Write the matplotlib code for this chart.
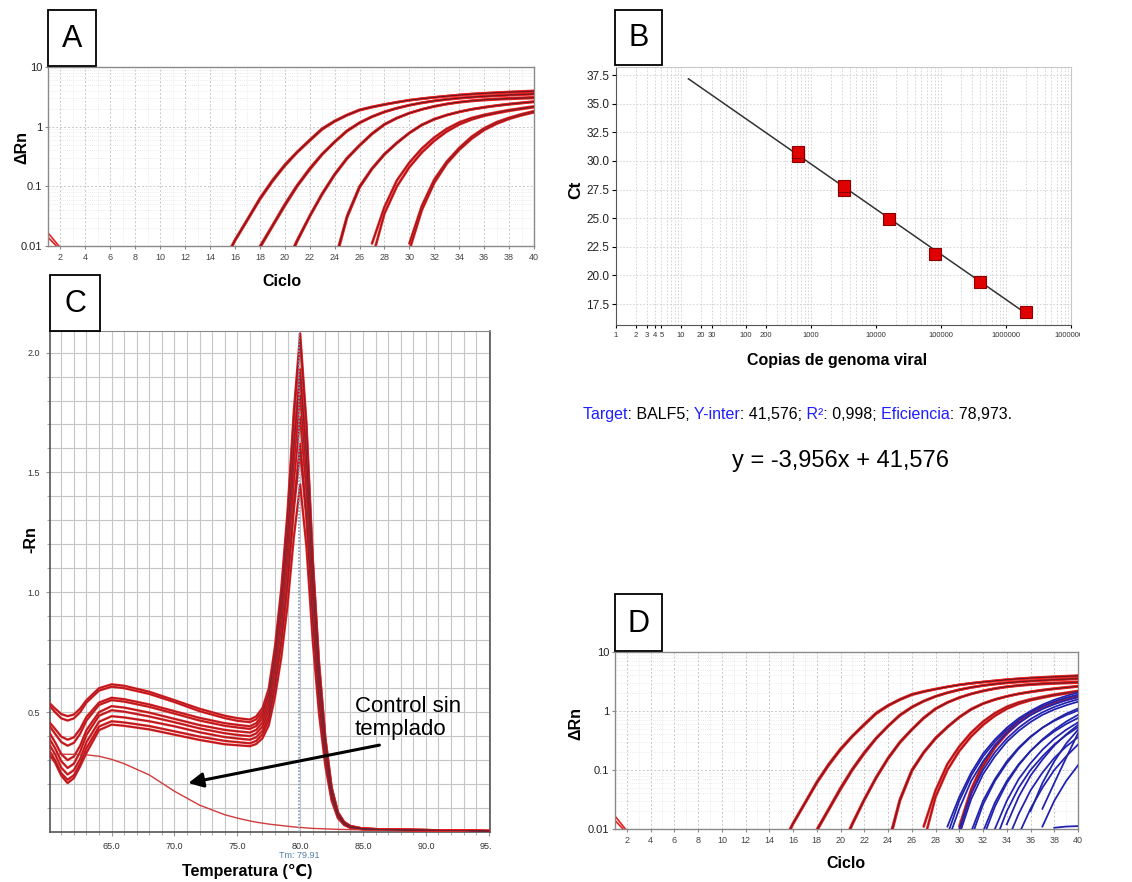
import numpy as np
import matplotlib
matplotlib.use("Agg")
import matplotlib.pyplot as plt
from matplotlib.patches import Rectangle
from matplotlib.transforms import Bbox, TransformedBbox
from matplotlib.font_manager import FontProperties

plt.rcParams['font.family'] = ['Liberation Sans', 'DejaVu Sans']

W, H = 1132, 882

# ---------------- A / D: amplification curves (delta Rn per cycle) ----------------
std_start = [15, 15, 17, 17, 20, 20, 24, 24, 27, 27, 30, 30]
std_curves = [
    [0.005, 0.0126, 0.028, 0.063, 0.126, 0.23, 0.38, 0.6, 0.93, 1.25, 1.58, 1.92, 2.15,
     2.36, 2.57, 2.78, 2.95, 3.1, 3.24, 3.38, 3.5, 3.6, 3.68, 3.76, 3.83, 3.9],
    [0.0048, 0.0122, 0.027, 0.06, 0.12, 0.22, 0.37, 0.58, 0.9, 1.22, 1.55, 1.88, 2.12,
     2.34, 2.56, 2.77, 2.94, 3.1, 3.25, 3.4, 3.53, 3.64, 3.73, 3.82, 3.9, 3.98],
    [0.004, 0.0093, 0.021, 0.047, 0.1, 0.19, 0.34, 0.55, 0.84, 1.15, 1.46, 1.76, 2.03,
     2.28, 2.5, 2.69, 2.85, 2.99, 3.1, 3.2, 3.28, 3.36, 3.43, 3.5],
    [0.0042, 0.0098, 0.022, 0.05, 0.105, 0.2, 0.35, 0.56, 0.86, 1.17, 1.48, 1.78, 2.05,
     2.3, 2.52, 2.72, 2.89, 3.03, 3.15, 3.25, 3.34, 3.42, 3.5, 3.58],
    [0.0045, 0.0126, 0.032, 0.076, 0.16, 0.3, 0.49, 0.77, 1.1, 1.4, 1.69, 1.95, 2.18,
     2.39, 2.56, 2.69, 2.79, 2.86, 2.92, 2.97, 3.02],
    [0.0042, 0.012, 0.031, 0.073, 0.155, 0.29, 0.48, 0.75, 1.08, 1.39, 1.68, 1.95, 2.2,
     2.41, 2.59, 2.73, 2.84, 2.93, 3.0, 3.06, 3.12],
    [0.0056, 0.032, 0.1, 0.2, 0.35, 0.54, 0.79, 1.08, 1.34, 1.57, 1.77, 1.95, 2.1,
     2.24, 2.37, 2.48, 2.6],
    [0.005, 0.03, 0.095, 0.195, 0.34, 0.53, 0.78, 1.06, 1.33, 1.56, 1.77, 1.96, 2.12,
     2.27, 2.4, 2.52, 2.64],
    [0.011, 0.045, 0.126, 0.25, 0.43, 0.66, 0.92, 1.18, 1.4, 1.58, 1.74, 1.9, 2.04, 2.19],
    [0.006, 0.035, 0.1, 0.21, 0.37, 0.58, 0.83, 1.09, 1.32, 1.52, 1.68, 1.84, 1.98, 2.12],
    [0.011, 0.047, 0.13, 0.26, 0.44, 0.68, 0.94, 1.19, 1.41, 1.62, 1.82],
    [0.0085, 0.04, 0.115, 0.24, 0.41, 0.63, 0.88, 1.12, 1.35, 1.55, 1.74],
]
noise_cycles = [1, 2]
noise_curves = [[0.0166, 0.0093], [0.014, 0.0085]]

# samples of panel D
smp_start = [29, 29, 29, 30, 30, 31, 31, 32, 33, 33, 34, 35, 36, 37, 37, 38, 34, 32]
smp_curves = [
    [0.011, 0.035, 0.09, 0.19, 0.33, 0.52, 0.75, 1.0, 1.28, 1.55, 1.8, 2.05],
    [0.008, 0.03, 0.08, 0.17, 0.3, 0.48, 0.7, 0.95, 1.2, 1.45, 1.68, 1.9],
    [0.006, 0.022, 0.065, 0.14, 0.26, 0.42, 0.62, 0.85, 1.08, 1.3, 1.52, 1.72],
    [0.01, 0.04, 0.1, 0.2, 0.34, 0.52, 0.73, 0.95, 1.17, 1.38, 1.58],
    [0.008, 0.032, 0.085, 0.17, 0.3, 0.46, 0.65, 0.86, 1.06, 1.25, 1.44],
    [0.009, 0.03, 0.07, 0.14, 0.24, 0.37, 0.52, 0.68, 0.85, 1.02],
    [0.007, 0.026, 0.065, 0.13, 0.23, 0.36, 0.52, 0.7, 0.9, 1.1],
    [0.009, 0.028, 0.065, 0.125, 0.21, 0.32, 0.45, 0.6, 0.76],
    [0.01, 0.03, 0.07, 0.13, 0.22, 0.34, 0.48, 0.64],
    [0.006, 0.02, 0.05, 0.1, 0.17, 0.27, 0.39, 0.53],
    [0.006, 0.018, 0.045, 0.09, 0.16, 0.25, 0.36],
    [0.008, 0.022, 0.05, 0.1, 0.17, 0.27],
    [0.02, 0.06, 0.14, 0.28, 0.48],
    [0.011, 0.03, 0.065, 0.12],
    [0.022, 0.06, 0.16, 0.42],
    [0.0105, 0.011, 0.0112],
    [0.012, 0.035, 0.08, 0.15, 0.26, 0.4, 0.58],
    [0.007, 0.024, 0.06, 0.12, 0.21, 0.33, 0.48, 0.66, 0.86],
]

# ---------------- B: standard curve ----------------
copies = [640, 640, 3200, 3200, 16000, 80000, 400000, 2000000]
ct = [30.45, 30.8, 27.45, 27.8, 24.93, 21.84, 19.4, 16.77]
fit_x = [13, 2.1e6]
fit_ct = [37.17, 16.62]
b_xticks = [1, 2, 3, 4, 5, 10, 20, 30, 100, 200, 1000, 1e4, 1e5, 1e6, 1e7]
b_xlabels = ['1', '2', '3', '4', '5', '10', '20', '30', '100', '200', '1000',
             '10000', '100000', '1000000', '10000000']

# ---------------- C: melt curves (-Rn' vs temperature) ----------------
temp = [60.1, 60.5, 61.0, 61.5, 62.0, 62.5, 63.0, 64.0, 65.0, 66.0, 68.0, 70.0, 72.0,
        74.0, 75.0, 76.0, 76.5, 77.0, 77.5, 78.0, 78.5, 79.0, 79.5, 80.0, 80.5, 81.0,
        81.5, 82.0, 82.5, 83.0, 83.5, 84.0, 85.0, 87.0, 90.0, 95.0]
melt = [
    [0.536, 0.515, 0.492, 0.483, 0.49, 0.515, 0.55, 0.6, 0.616, 0.61, 0.585, 0.55, 0.514,
     0.485, 0.475, 0.469, 0.482, 0.517, 0.598, 0.775, 1.017, 1.339, 1.758, 2.08, 1.706,
     1.144, 0.707, 0.395, 0.187, 0.083, 0.042, 0.025, 0.014, 0.01, 0.008, 0.004],
    [0.525, 0.5, 0.474, 0.465, 0.474, 0.5, 0.54, 0.59, 0.606, 0.6, 0.576, 0.542, 0.504,
     0.475, 0.464, 0.458, 0.47, 0.502, 0.576, 0.738, 0.958, 1.253, 1.636, 1.93, 1.583,
     1.062, 0.656, 0.367, 0.174, 0.077, 0.039, 0.023, 0.014, 0.01, 0.008, 0.004],
    [0.455, 0.43, 0.398, 0.385, 0.395, 0.43, 0.48, 0.54, 0.56, 0.554, 0.532, 0.504, 0.476,
     0.454, 0.447, 0.441, 0.454, 0.489, 0.57, 0.747, 0.988, 1.31, 1.728, 2.05, 1.681,
     1.128, 0.697, 0.39, 0.185, 0.082, 0.041, 0.025, 0.014, 0.01, 0.008, 0.004],
    [0.44, 0.41, 0.375, 0.36, 0.372, 0.41, 0.465, 0.53, 0.55, 0.544, 0.522, 0.494, 0.465,
     0.443, 0.436, 0.43, 0.442, 0.474, 0.548, 0.709, 0.93, 1.224, 1.606, 1.9, 1.558,
     1.045, 0.646, 0.361, 0.171, 0.076, 0.038, 0.023, 0.014, 0.01, 0.008, 0.004],
    [0.41, 0.375, 0.325, 0.3, 0.315, 0.36, 0.425, 0.5, 0.525, 0.519, 0.498, 0.472, 0.446,
     0.426, 0.42, 0.415, 0.426, 0.457, 0.527, 0.682, 0.893, 1.174, 1.539, 1.82, 1.492,
     1.001, 0.619, 0.346, 0.164, 0.073, 0.036, 0.022, 0.013, 0.01, 0.008, 0.004],
    [0.385, 0.35, 0.295, 0.267, 0.285, 0.335, 0.405, 0.485, 0.508, 0.502, 0.482, 0.458,
     0.432, 0.412, 0.405, 0.4, 0.411, 0.44, 0.506, 0.653, 0.852, 1.118, 1.464, 1.73, 1.419,
     0.952, 0.588, 0.329, 0.156, 0.069, 0.035, 0.021, 0.013, 0.01, 0.008, 0.004],
    [0.36, 0.325, 0.268, 0.24, 0.258, 0.305, 0.375, 0.46, 0.483, 0.478, 0.462, 0.441,
     0.416, 0.396, 0.39, 0.385, 0.395, 0.422, 0.484, 0.62, 0.805, 1.052, 1.373, 1.62,
     1.328, 0.891, 0.551, 0.308, 0.146, 0.065, 0.032, 0.019, 0.012, 0.009, 0.007, 0.004],
    [0.335, 0.3, 0.245, 0.218, 0.237, 0.285, 0.35, 0.44, 0.462, 0.457, 0.442, 0.42, 0.398,
     0.38, 0.375, 0.37, 0.38, 0.407, 0.468, 0.602, 0.785, 1.029, 1.346, 1.59, 1.304,
     0.875, 0.541, 0.302, 0.143, 0.064, 0.032, 0.019, 0.012, 0.009, 0.007, 0.004],
    [0.32, 0.29, 0.235, 0.204, 0.225, 0.274, 0.33, 0.425, 0.448, 0.443, 0.428, 0.406,
     0.384, 0.366, 0.362, 0.358, 0.367, 0.391, 0.445, 0.565, 0.729, 0.948, 1.232, 1.45,
     1.189, 0.798, 0.493, 0.276, 0.131, 0.058, 0.029, 0.017, 0.011, 0.009, 0.007, 0.004],
]
ntc = [0.325, 0.325, 0.325, 0.324, 0.324, 0.323, 0.322, 0.316, 0.303, 0.285, 0.238, 0.17,
       0.112, 0.072, 0.058, 0.046, 0.041, 0.037, 0.033, 0.03, 0.027, 0.024, 0.021, 0.019,
       0.017, 0.015, 0.014, 0.013, 0.012, 0.011, 0.0105, 0.01, 0.009, 0.008, 0.006, 0.003]
tm = 79.91


def rect(l, t, r, b):
    return [l / W, 1 - b / H, (r - l) / W, (b - t) / H]


def ftext(x, y, s, **kw):
    return fig.text(x / W, 1 - y / H, s, **kw)


def label_box(l, t, r, b, letter):
    fig.add_artist(Rectangle((l / W, 1 - b / H), (r - l) / W, (b - t) / H,
                             transform=fig.transFigure, facecolor='white',
                             edgecolor='black', lw=1.3, zorder=10))
    ftext((l + r) / 2, (t + b) / 2 + 1, letter, ha='center', va='center',
          fontsize=22, zorder=11)


def clip_right(txt, xpx):
    txt.set_clip_box(TransformedBbox(Bbox([[0, 0], [xpx / W, 1]]), fig.transFigure))
    txt.set_clip_on(True)


def red_curve(ax, cyc, vals):
    ax.plot(cyc, vals, color='#e82020', lw=1.9, solid_capstyle='round',
            solid_joinstyle='round', zorder=3)
    ax.plot(cyc, vals, color='#4a1822', lw=0.45, alpha=0.85, zorder=3.1)


def amp_axes(ax):
    ax.set_yscale('log')
    ax.set_xlim(1, 40)
    ax.set_ylim(0.01, 10)
    ax.set_xticks(range(2, 41, 2))
    ax.set_xticks(range(1, 41), minor=True)
    ax.set_yticks([0.01, 0.1, 1, 10])
    ax.set_yticklabels(['0.01', '0.1', '1', '10'])
    ax.tick_params(axis='x', labelsize=6.5, labelcolor='#444444', length=2,
                   color='#888888', pad=3)
    ax.tick_params(axis='y', labelsize=8, labelcolor='#222222', length=2,
                   color='#888888', pad=2)
    ax.tick_params(which='minor', length=0)
    ax.grid(which='major', color='#c8c8c8', lw=0.7, ls=(0, (2, 2)))
    ax.grid(which='minor', color='#dadada', lw=0.5, ls=(0, (1, 2)))
    for s in ax.spines.values():
        s.set_color('#8a8a8a')
        s.set_linewidth(1.0)


fig = plt.figure(figsize=(W / 100, H / 100), dpi=100)

# ---------------- panel A ----------------
axA = fig.add_axes(rect(48, 67, 534, 246))
amp_axes(axA)
for st, vals in zip(std_start, std_curves):
    red_curve(axA, np.arange(st, st + len(vals)), vals)
for vals in noise_curves:
    axA.plot(noise_cycles, vals, color='#e62222', lw=1.2)
label_box(48, 10, 96, 66, 'A')
ftext(22, 148, 'ΔRn', rotation=90, ha='center', va='center', fontsize=11.5,
      fontweight='bold')
ftext(282, 282, 'Ciclo', ha='center', va='center', fontsize=11.5, fontweight='bold')

# ---------------- panel B ----------------
axB = fig.add_axes(rect(616, 67, 1071, 325))
axB.set_xscale('log')
axB.set_xlim(1, 1e7)
axB.set_ylim(15.67, 38.2)
axB.set_yticks(np.arange(17.5, 38, 2.5))
axB.set_yticklabels(['%.1f' % v for v in np.arange(17.5, 38, 2.5)])
axB.set_xticks(b_xticks)
axB.set_xticklabels(b_xlabels)
axB.tick_params(axis='x', labelsize=5.5, labelcolor='#333333', length=2, pad=3)
axB.tick_params(axis='y', labelsize=8.5, labelcolor='#222222', length=3, pad=2)
axB.tick_params(which='minor', length=0)
axB.grid(which='both', axis='x', color='#d0d0d0', lw=0.6, ls=(0, (2, 2)))
axB.grid(which='major', axis='y', color='#d0d0d0', lw=0.6, ls=(0, (2, 2)))
for s in ['top', 'right']:
    axB.spines[s].set_color('#c8c8c8')
for s in ['left', 'bottom']:
    axB.spines[s].set_color('#555555')
axB.plot(fit_x, fit_ct, color='#333333', lw=1.1, zorder=3)
axB.plot(copies, ct, ls='none', marker='s', ms=9, mfc='#e00000', mec='#8a0000',
         mew=0.8, zorder=4)
clip_right(axB.get_xticklabels()[-1], 1080)
label_box(615, 10, 662, 65, 'B')
ftext(576, 190, 'Ct', rotation=90, ha='center', va='center', fontsize=12.5,
      fontweight='bold')
ftext(837, 360, 'Copias de genoma viral', ha='center', va='center', fontsize=11.5,
      fontweight='bold')

# info text under B: one string, drawn once per colour segment and clipped
blue = '#1f1fff'
parts = [('Target', blue), (': BALF5; ', 'black'), ('Y-inter', blue),
         (': 41,576; ', 'black'), ('R²', blue), (': 0,998; ', 'black'),
         ('Eficiencia', blue), (': 78,973.', 'black')]
full = ''.join(s for s, _ in parts)
renderer = fig.canvas.get_renderer()
fp = FontProperties(family=['Liberation Sans', 'DejaVu Sans'], size=11.5)


def width(s):
    return renderer.get_text_width_height_descent(s, fp, ismath=False)[0]


x0 = 583
edges = [0]
prefix = ''
for s, _ in parts[:-1]:
    prefix += s
    edges.append(width('I' + prefix.rstrip()) - width('I'))
for k, (s, c) in enumerate(parts):
    t = ftext(x0, 414, full, ha='left', va='center', fontsize=11.5, color=c)
    left = 0 if k == 0 else x0 + edges[k]
    right = W if k == len(parts) - 1 else x0 + edges[k + 1]
    t.set_clip_box(Bbox([[left, 0], [right, H]]))
    t.set_clip_on(True)
ftext(840, 461, 'y = -3,956x + 41,576', ha='center', va='center', fontsize=17)

# ---------------- panel C ----------------
axC = fig.add_axes(rect(50, 331, 490, 832))
axC.set_xlim(60.1, 95.1)
axC.set_ylim(0, 2.09)
axC.set_xticks([65, 70, 75, 80, 85, 90, 95])
axC.set_xticklabels(['65.0', '70.0', '75.0', '80.0', '85.0', '90.0', '95.0'])
axC.set_xticks(np.arange(61, 96, 1), minor=True)
axC.set_yticks([0.5, 1.0, 1.5, 2.0])
axC.set_yticklabels(['0.5', '1.0', '1.5', '2.0'])
axC.set_yticks(np.arange(0.1, 2.05, 0.1), minor=True)
axC.tick_params(which='both', labelsize=6.5, labelcolor='#333333', length=3,
                color='#999999', pad=4)
axC.tick_params(which='minor', length=2)
axC.grid(which='both', color='#c6c6c6', lw=0.8)
axC.spines['top'].set_color('#888888')
for s in ['left', 'bottom', 'right']:
    axC.spines[s].set_color('#555555')
    axC.spines[s].set_linewidth(1.2)
for vals in melt:
    axC.plot(temp, vals, color='#e81e1e', lw=1.7, solid_joinstyle='round', zorder=3)
    axC.plot(temp, vals, color='#6a2232', lw=0.45, alpha=0.85, zorder=3.1)
axC.plot(temp, ntc, color='#d23a3a', lw=1.0, zorder=3)
axC.axvline(tm, color='#7f9ab8', lw=1.2, ls=(0, (1, 1)), zorder=3.2)
clip_right(axC.get_xticklabels()[-1], 492)
ftext(299, 855, 'Tm: 79.91', ha='center', va='center', fontsize=6.5, color='#4f7fa8')
axC.annotate('', xy=(71.1, 0.204), xytext=(86.3, 0.3625),
             arrowprops=dict(arrowstyle='-|>', color='black', lw=2.2,
                             mutation_scale=22, shrinkA=0, shrinkB=0), zorder=6)
ftext(355, 718, 'Control sin\ntemplado', ha='left', va='center', fontsize=16,
      linespacing=1.1, zorder=6)
label_box(50, 275, 100, 331, 'C')
ftext(31, 540, '-Rn', rotation=90, ha='center', va='center', fontsize=11.5,
      fontweight='bold')
ftext(247, 871, 'Temperatura (℃)', ha='center', va='center', fontsize=11.5,
      fontweight='bold')

# ---------------- panel D ----------------
axD = fig.add_axes(rect(615, 652, 1078, 829))
amp_axes(axD)
for st, vals in zip(std_start, std_curves):
    red_curve(axD, np.arange(st, st + len(vals)), vals)
for st, vals in zip(smp_start, smp_curves):
    cyc = np.arange(st, st + len(vals))
    axD.plot(cyc, vals, color='#2a2ad0', lw=1.3, solid_joinstyle='round', zorder=3.5)
    axD.plot(cyc, vals, color='#20206a', lw=0.45, alpha=0.8, zorder=3.6)
for vals in noise_curves:
    axD.plot(noise_cycles, vals, color='#e62222', lw=1.2)
label_box(615, 594, 662, 651, 'D')
ftext(576, 723, 'ΔRn', rotation=90, ha='center', va='center', fontsize=11.5,
      fontweight='bold')
ftext(846, 864, 'Ciclo', ha='center', va='center', fontsize=11.5, fontweight='bold')

fig.savefig('out.png', dpi=100)
